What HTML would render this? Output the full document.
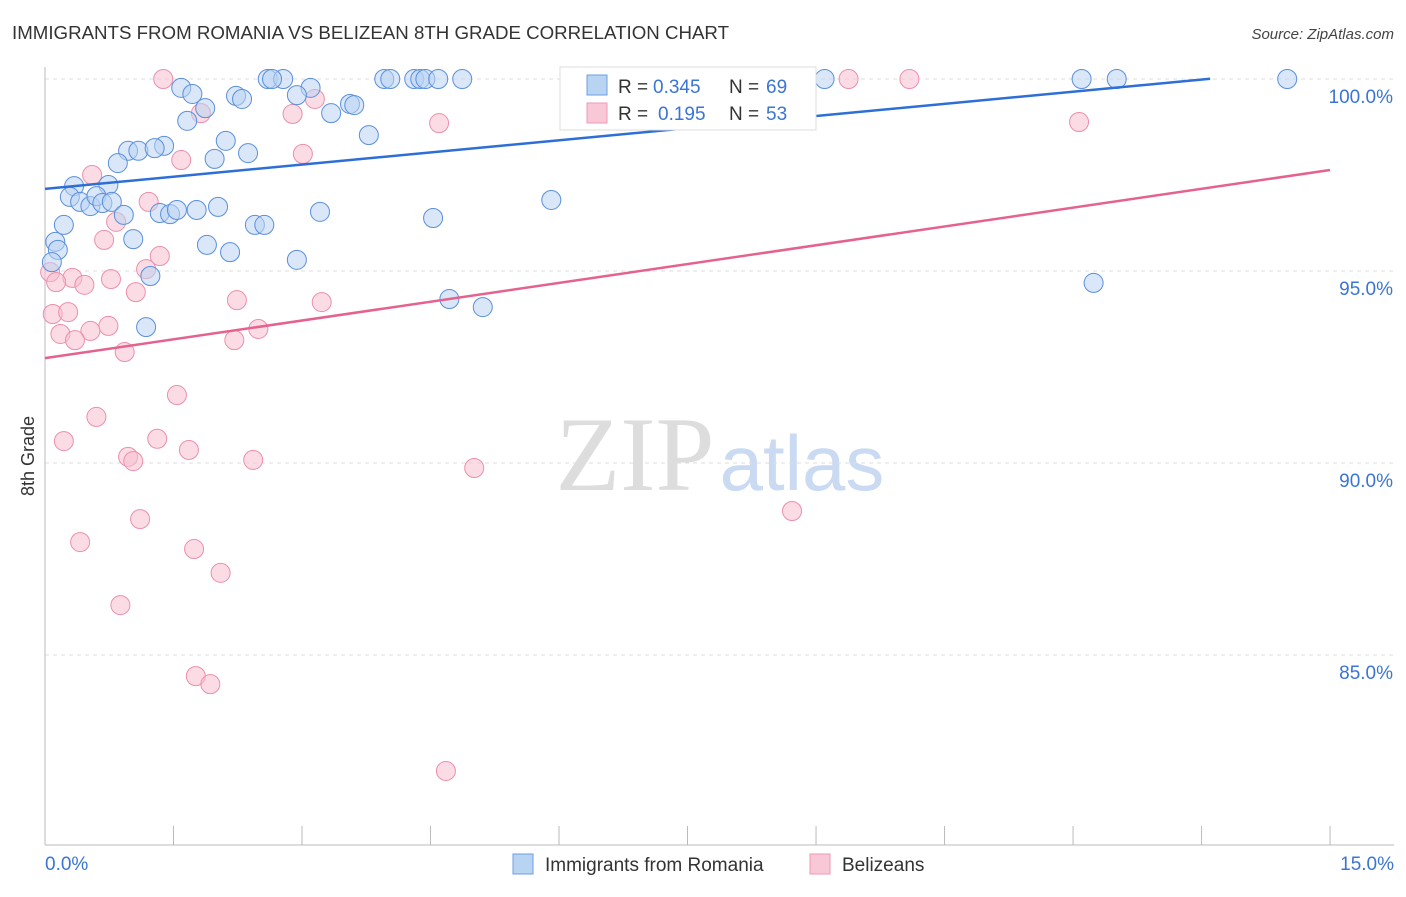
<!DOCTYPE html>
<html><head><meta charset="utf-8"><style>
body{margin:0;background:#fff;font-family:"Liberation Sans",sans-serif}
</style></head><body>
<svg id="chart" width="1406" height="892" xmlns="http://www.w3.org/2000/svg" font-family="Liberation Sans, sans-serif">
<text x="12" y="39" font-size="18" fill="#333" textLength="717" lengthAdjust="spacingAndGlyphs">IMMIGRANTS FROM ROMANIA VS BELIZEAN 8TH GRADE CORRELATION CHART</text>
<text x="1394" y="39" font-size="15" fill="#444" text-anchor="end" font-style="italic">Source: ZipAtlas.com</text>
<g>
<text x="635" y="490" font-size="106" fill="#ddd" text-anchor="middle" font-family="Liberation Serif, serif">ZIP</text>
<text x="802" y="490" font-size="78" fill="#c9daf2" text-anchor="middle">atlas</text>
</g>
<g id="grid"></g><g id="axes"></g><g id="marks"></g>
<text transform="translate(34,456) rotate(-90)" font-size="18" fill="#333" text-anchor="middle">8th Grade</text>
<g>
<rect x="560" y="67" width="256" height="63" fill="#fff" stroke="#ddd"/>
<rect x="587" y="75" width="20" height="20" fill="#b9d3f3" stroke="#6d9de0"/>
<text y="93" font-size="19" fill="#333"><tspan x="618">R =</tspan><tspan x="653" fill="#3a75d4">0.345</tspan><tspan x="729">N =</tspan><tspan x="766" fill="#3a75d4">69</tspan></text>
<rect x="587" y="103" width="20" height="20" fill="#f9c8d7" stroke="#ee9ab4"/>
<text y="120" font-size="19" fill="#333"><tspan x="618">R =</tspan><tspan x="658" fill="#3a75d4">0.195</tspan><tspan x="729">N =</tspan><tspan x="766" fill="#3a75d4">53</tspan></text>
</g>
<g>
<rect x="513" y="854" width="20" height="20" fill="#b9d3f3" stroke="#6d9de0"/>
<text x="545" y="871" font-size="19" fill="#333">Immigrants from Romania</text>
<rect x="810" y="854" width="20" height="20" fill="#f9c8d7" stroke="#ee9ab4"/>
<text x="842" y="871" font-size="19" fill="#333">Belizeans</text>
</g>
</svg>
<script>
const xTicks=[0,1.5,3,4.5,6,7.5,9,10.5,12,13.5,15];
const yTickVals=[100,95,90,85];
const yTickLabels=["100.0%","95.0%","90.0%","85.0%"];
const xEndLabels=["0.0%","15.0%"];
const blueX=[2.60,2.78,2.65,3.96,4.03,4.31,4.38,4.44,4.59,4.87,6.35,9.10,12.10,12.51,14.50,1.59,1.72,3.10,2.94,2.23,2.30,1.87,3.56,3.61,3.34,1.66,2.11,3.78,1.39,0.97,1.09,1.28,2.37,1.98,0.85,0.34,0.74,0.29,0.41,0.53,0.60,0.67,0.78,0.92,1.34,1.46,1.54,1.77,2.02,3.21,4.53,5.91,0.22,2.45,2.56,1.03,1.89,2.16,0.12,0.15,2.94,1.23,4.72,5.11,1.18,12.24,0.08];
const blueY=[100,100,100,100,100,100,100,100,100,100,100,100,100,100,100,99.77,99.61,99.77,99.58,99.56,99.48,99.24,99.35,99.32,99.11,98.91,98.39,98.54,98.26,98.13,98.13,98.20,98.07,97.92,97.81,97.21,97.24,96.93,96.80,96.69,96.95,96.77,96.80,96.46,96.51,96.48,96.59,96.59,96.67,96.54,96.38,96.85,96.20,96.20,96.20,95.83,95.68,95.49,95.76,95.55,95.29,94.87,94.27,94.06,93.54,94.69,95.23];
const pinkX=[1.38,9.38,10.09,1.82,2.89,3.15,4.60,12.07,3.01,1.59,0.55,1.21,0.83,0.69,1.34,1.18,0.32,0.06,0.13,0.46,0.77,1.06,2.24,3.23,0.09,0.27,0.74,0.18,0.53,2.49,0.35,2.21,0.93,1.54,0.60,0.22,1.31,1.68,0.97,1.03,2.43,5.01,1.11,8.72,0.41,1.74,2.05,0.88,1.76,1.93,4.68];
const pinkY=[100,100,100,99.11,99.09,99.48,98.85,98.88,98.05,97.89,97.50,96.80,96.28,95.81,95.39,95.05,94.82,94.97,94.71,94.64,94.79,94.45,94.24,94.19,93.88,93.93,93.57,93.36,93.44,93.49,93.20,93.20,92.89,91.77,91.20,90.57,90.63,90.34,90.16,90.05,90.08,89.87,88.54,88.75,87.94,87.76,87.14,86.30,84.45,84.24,81.98];
const blueLine=[97.14,100.3];
const pinkLine=[92.73,97.63];
const NS="http://www.w3.org/2000/svg";
const X=v=>45+v*85.67, Y=v=>79+(100-v)*38.4;
function mk(t,a,p){const e=document.createElementNS(NS,t);for(const k in a)e.setAttribute(k,a[k]);p.appendChild(e);return e;}
const grid=document.getElementById('grid'),axes=document.getElementById('axes'),marks=document.getElementById('marks');
yTickVals.forEach((v,i)=>{
 const l=mk('line',{x1:45,x2:1394,y1:Y(v),y2:Y(v),stroke:'#ddd','stroke-dasharray':'4,4'},grid);
 
 
 const t=mk('text',{x:1393,y:Y(v)+24,'font-size':19,fill:'#3a75d4','text-anchor':'end'},axes);
 t.textContent=yTickLabels[i];
 
 
});
const ax=mk('line',{x1:45,x2:45,y1:67,y2:845,stroke:'#bbb'},axes);


const bx=mk('line',{x1:45,x2:1394,y1:845,y2:845,stroke:'#bbb'},axes);


xTicks.forEach(v=>{const t=mk('line',{x1:X(v),x2:X(v),y1:826,y2:845,stroke:'#bbb'},axes);
 
 });
const xl0=mk('text',{x:45,y:870,'font-size':19,fill:'#3a75d4'},axes);xl0.textContent=xEndLabels[0];


const xl1=mk('text',{x:1394,y:870,'font-size':19,fill:'#3a75d4','text-anchor':'end'},axes);xl1.textContent=xEndLabels[1];


function pts(xs,ys,fill,stroke,name){xs.forEach((x,i)=>{const c=mk('circle',{cx:X(x),cy:Y(ys[i]),r:9.5,fill:fill,'fill-opacity':0.55,stroke:stroke,'stroke-width':1},marks);
 
 });}
pts(pinkX,pinkY,'#f7bfd0','#ec8fac','belizean-point');
pts(blueX,blueY,'#b9d3f3','#5b8fdc','romania-point');
function line(v,col,name,xe){const ye=v[0]+(v[1]-v[0])*xe/15;const l=mk('line',{x1:X(0),y1:Y(v[0]),x2:X(xe),y2:Y(ye),stroke:col,'stroke-width':2.5},marks);
 
 }
line(blueLine,'#2d6fd6','romania-trendline',13.6);
line(pinkLine,'#e5628e','belizean-trendline',15);
</script>
</body></html>
